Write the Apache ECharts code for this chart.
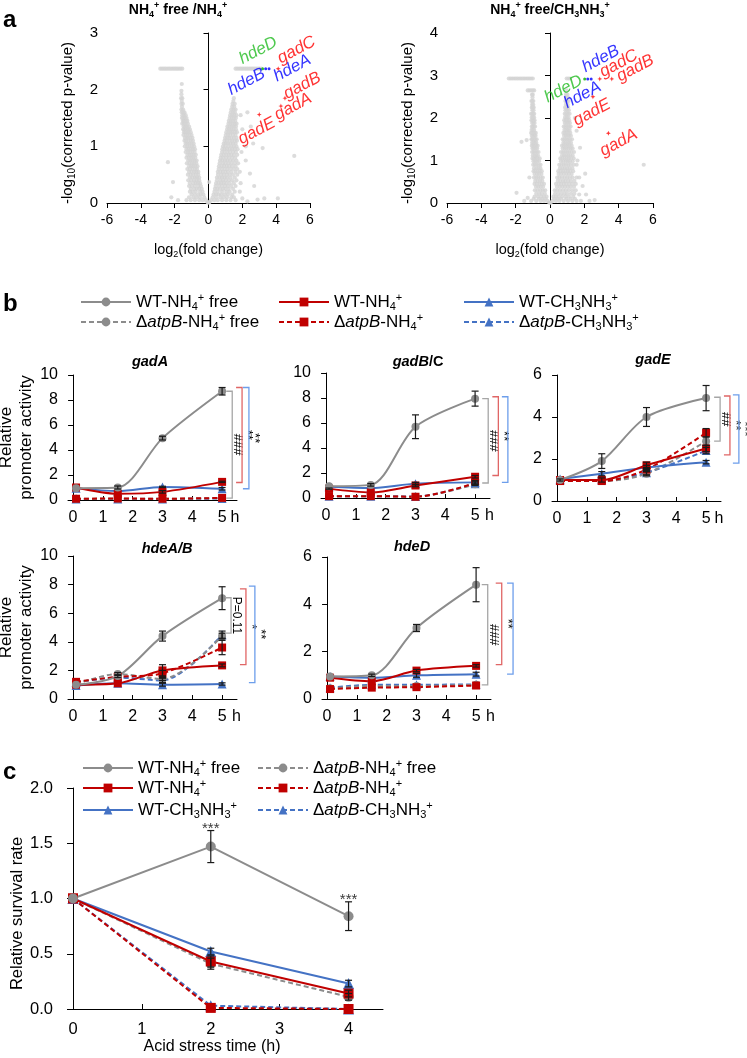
<!DOCTYPE html>
<html>
<head>
<meta charset="utf-8">
<title>NH4+ starvation and acid resistance</title>
<script src="https://cdn.jsdelivr.net/npm/echarts@6.0.0/dist/echarts.min.js"></script>
<style>
  html, body { margin: 0; padding: 0; background: #fff; }
  #main { width: 747px; height: 1058px; }
</style>
</head>
<body>
<div id="main"></div>
<script>
const FONT = 'Liberation Sans';
const GREY = '#8c8c8c', RED = '#c00000', BLUE = '#4472c4', PT = '#d3d3d3';

// ---------- panel a : volcano plots ----------
// rows: [y, x1, x2, ...]  (-log10 p, log2 fold change)
const volcA_rows = [
  [0.01, -0.05, 0.0, 0.05],
  [0.05, -1.3, -1.05, -0.8, -0.55, -0.35, -0.15, 0.15, 0.35, 0.55, 0.8, 1.05, 1.3, 1.6],
  [0.1, -1.15, -0.9, -0.7, -0.5, -0.25, 0.25, 0.45, 0.7, 0.9, 1.1, 1.35, 1.5],
  [0.15, -1.0, -0.8, -0.6, -0.45, -0.3, 0.3, 0.45, 0.6, 0.75, 0.95, 1.15, 1.4],
  [0.2, -1.1, -0.95, -0.75, -0.5, -0.35, 0.35, 0.55, 0.8, 1.05, 1.25, 1.55],
  [0.25, -1.05, -0.85, -0.7, -0.55, -0.4, 0.38, 0.52, 0.68, 0.85, 1.0, 1.2, 1.45],
  [0.3, -1.15, -0.98, -0.8, -0.6, -0.45, 0.42, 0.62, 0.8, 0.98, 1.15, 1.35, 1.6],
  [0.35, -1.1, -0.9, -0.75, -0.62, -0.5, 0.45, 0.6, 0.75, 0.9, 1.05, 1.25, 1.5, 1.9],
  [0.4, -1.2, -1.02, -0.85, -0.7, -0.55, 0.5, 0.7, 0.85, 1.02, 1.2, 1.4, 1.65],
  [0.45, -1.1, -0.95, -0.8, -0.68, -0.55, 0.5, 0.65, 0.8, 0.95, 1.1, 1.3, 1.55],
  [0.5, -1.22, -1.05, -0.9, -0.75, -0.6, 0.56, 0.75, 0.9, 1.08, 1.25, 1.45, 1.7],
  [0.55, -1.15, -1.0, -0.85, -0.72, -0.6, 0.55, 0.7, 0.85, 1.0, 1.15, 1.35, 1.6, 1.85],
  [0.6, -1.25, -1.1, -0.95, -0.8, -0.68, 0.6, 0.78, 0.95, 1.12, 1.3, 1.5, 1.7],
  [0.65, -1.15, -1.02, -0.9, -0.78, -0.65, 0.62, 0.78, 0.92, 1.08, 1.22, 1.4, 1.6],
  [0.7, -1.28, -1.12, -0.98, -0.85, -0.72, 0.66, 0.85, 1.0, 1.18, 1.35, 1.55, 1.75],
  [0.75, -1.2, -1.08, -0.95, -0.82, -0.7, 0.68, 0.82, 0.98, 1.12, 1.28, 1.45, 1.65],
  [0.8, -1.3, -1.15, -1.02, -0.9, -0.78, 0.72, 0.88, 1.05, 1.22, 1.4, 1.58],
  [0.85, -1.25, -1.12, -1.0, -0.88, -0.75, 0.75, 0.9, 1.05, 1.2, 1.35, 1.5, 1.7],
  [0.9, -1.35, -1.2, -1.08, -0.95, -0.82, 0.8, 0.95, 1.12, 1.28, 1.45, 1.62],
  [0.95, -1.3, -1.18, -1.05, -0.92, -0.8, 0.82, 0.96, 1.1, 1.25, 1.4, 1.55, 1.72],
  [1.0, -1.4, -1.25, -1.12, -0.98, -0.85, 0.86, 1.0, 1.18, 1.35, 1.5, 1.65],
  [1.05, -1.35, -1.25, -1.12, -1.0, -0.88, 0.9, 1.02, 1.15, 1.3, 1.45, 1.6],
  [1.1, -1.42, -1.32, -1.18, -1.05, -0.92, 0.95, 1.08, 1.25, 1.4, 1.55, 1.68],
  [1.15, -1.4, -1.3, -1.2, -1.08, -0.95, 0.98, 1.1, 1.22, 1.35, 1.5, 1.65],
  [1.2, -1.48, -1.35, -1.25, -1.12, -1.0, 1.02, 1.15, 1.28, 1.45, 1.6],
  [1.25, -1.45, -1.38, -1.28, -1.18, -1.05, 1.05, 1.18, 1.3, 1.42, 1.55, 1.68],
  [1.3, -1.5, -1.42, -1.32, -1.2, -1.1, 1.1, 1.22, 1.35, 1.48, 1.62],
  [1.35, -1.47, -1.38, -1.28, -1.15, 1.12, 1.25, 1.38, 1.5, 1.62],
  [1.4, -1.55, -1.45, -1.35, -1.22, 1.18, 1.3, 1.42, 1.55, 1.66],
  [1.45, -1.52, -1.45, -1.35, -1.25, 1.2, 1.32, 1.45, 1.58],
  [1.5, -1.57, -1.48, -1.4, -1.3, 1.25, 1.38, 1.5, 1.62],
  [1.55, -1.55, -1.45, -1.35, 1.28, 1.4, 1.52, 1.65],
  [1.6, -1.58, -1.5, -1.42, 1.32, 1.45, 1.56],
  [1.65, -1.6, -1.5, 1.35, 1.48, 1.6],
  [1.7, -1.57, 1.4, 1.52],
  [1.75, -1.6, -1.52, 1.42, 1.55],
  [1.8, -1.58, 1.47],
  [1.85, -1.62, -1.55, 1.5],
  [1.92, -1.6],
  [1.98, -1.6],
  [2.1, -1.58],
  [2.37, -2.85, -2.75, -2.65, -2.55, -2.45, -2.35, -2.25, -2.15, -2.05, -1.95, -1.85, -1.75, -1.65, -1.55,
        1.6, 1.7, 1.8, 1.9, 2.0, 2.1, 2.2, 2.3, 2.4, 2.5, 2.6, 2.7, 2.8, 2.9, 3.0, 3.1]
];
const volcA_other = [[-2.4, 0.72], [-2.1, 0.37], [-2.2, 0.1], [-1.8, 0.05], [0.04, 0.37], [1.85, 0.2], [2.0, 0.08],
  [2.3, 0.03], [2.9, 0.06], [3.3, 0.08], [4.1, 0.08], [2.45, 0.52], [2.2, 0.75], [2.2, 1.0], [2.64, 1.05],
  [3.2, 0.97], [2.0, 1.3], [1.9, 1.55], [2.5, 1.35], [2.3, 1.6], [5.07, 0.83], [2.7, 0.3], [1.95, 0.9]];
const volcA_geneRed = [[4.12, 2.37], [4.52, 1.85], [4.28, 1.71], [3.0, 1.56]];
const volcA_geneBlue = [[3.38, 2.37], [3.58, 2.37]];
const volcA_geneGreen = [[3.2, 2.37]];
const volcA_labelRed = [['gadC', 5.2, 2.7], ['gadB', 5.54, 2.07], ['gadE', 2.85, 1.27], ['gadA', 5.0, 1.7]];
const volcA_labelBlue = [['hdeB', 2.25, 2.14], ['hdeA', 4.95, 2.38]];
const volcA_labelGreen = [['hdeD', 2.94, 2.69]];

const volcB_rows = [
  [0.01, -0.05, 0.0, 0.05],
  [0.05, -1.1, -0.8, -0.55, -0.35, -0.15, 0.15, 0.35, 0.55, 0.8, 1.05, 1.3, 1.55],
  [0.1, -0.95, -0.65, -0.45, -0.25, 0.25, 0.45, 0.65, 0.95, 1.2, 1.45],
  [0.15, -0.9, -0.7, -0.5, -0.35, -0.2, 0.2, 0.35, 0.5, 0.7, 0.9, 1.1, 1.35],
  [0.22, -0.8, -0.62, -0.48, -0.3, 0.3, 0.48, 0.66, 0.84, 1.0, 1.22, 1.42],
  [0.3, -0.88, -0.72, -0.56, -0.42, -0.28, 0.28, 0.42, 0.58, 0.75, 0.92, 1.1, 1.3, 1.5],
  [0.38, -0.82, -0.68, -0.54, -0.4, 0.4, 0.56, 0.72, 0.88, 1.04, 1.2, 1.4],
  [0.45, -0.9, -0.76, -0.62, -0.48, -0.35, 0.35, 0.5, 0.65, 0.8, 0.95, 1.12, 1.3, 1.5],
  [0.52, -0.86, -0.72, -0.58, -0.45, 0.45, 0.6, 0.76, 0.9, 1.06, 1.22, 1.42],
  [0.6, -0.93, -0.8, -0.68, -0.55, -0.42, 0.42, 0.55, 0.7, 0.85, 1.0, 1.15, 1.32, 1.55],
  [0.68, -0.9, -0.76, -0.64, -0.5, 0.5, 0.64, 0.8, 0.96, 1.1, 1.26],
  [0.75, -0.96, -0.85, -0.72, -0.6, -0.48, 0.48, 0.62, 0.76, 0.9, 1.04, 1.18, 1.35],
  [0.82, -0.93, -0.8, -0.68, -0.56, 0.58, 0.72, 0.86, 1.0, 1.14, 1.3],
  [0.9, -0.98, -0.88, -0.78, -0.66, -0.55, 0.54, 0.67, 0.8, 0.93, 1.07, 1.2, 1.38, 1.55],
  [0.98, -0.96, -0.86, -0.76, -0.64, 0.64, 0.78, 0.92, 1.04, 1.16, 1.32],
  [1.05, -1.02, -0.92, -0.82, -0.72, -0.6, 0.6, 0.72, 0.85, 0.97, 1.1, 1.22, 1.38],
  [1.12, -1.0, -0.9, -0.8, -0.7, 0.7, 0.82, 0.94, 1.06, 1.18, 1.32],
  [1.2, -1.04, -0.96, -0.87, -0.77, -0.67, 0.65, 0.77, 0.88, 1.0, 1.12, 1.25, 1.4],
  [1.28, -1.02, -0.94, -0.84, -0.75, 0.74, 0.85, 0.96, 1.08, 1.2, 1.32],
  [1.35, -1.06, -0.98, -0.9, -0.82, -0.72, 0.7, 0.8, 0.92, 1.03, 1.14, 1.26],
  [1.42, -1.04, -0.96, -0.88, -0.8, 0.78, 0.88, 1.0, 1.1, 1.22],
  [1.5, -1.08, -1.02, -0.94, -0.86, -0.78, 0.74, 0.84, 0.95, 1.05, 1.16, 1.28],
  [1.58, -1.06, -0.98, -0.9, -0.84, 0.82, 0.92, 1.02, 1.12, 1.22],
  [1.65, -1.1, -1.04, -0.97, -0.9, -0.83, 0.78, 0.88, 0.98, 1.08, 1.18],
  [1.72, -1.07, -1.0, -0.92, 0.84, 0.94, 1.04, 1.14],
  [1.8, -1.06, -1.0, -0.94, -0.87, 0.8, 0.9, 1.0, 1.1, 1.2],
  [1.88, -1.04, -0.97, -0.9, 0.86, 0.96, 1.06, 1.16],
  [1.95, -1.08, -1.02, -0.96, -0.9, 0.83, 0.92, 1.02, 1.12],
  [2.02, -1.06, -0.99, -0.93, 0.88, 0.98, 1.08],
  [2.1, -1.1, -1.04, -0.98, -0.92, 0.86, 0.95, 1.04, 1.14],
  [2.18, -1.03, -0.96, 0.9, 1.0, 1.1],
  [2.25, -1.06, -1.0, -0.95, 0.88, 0.97, 1.06],
  [2.32, -1.04, -0.98, 0.93, 1.03],
  [2.4, -1.08, -1.03, -0.97, 0.9, 0.99, 1.08],
  [2.48, -1.02, 0.95, 1.05],
  [2.55, -1.05, -1.0, 0.93, 1.02],
  [2.65, -1.3, -1.2, -1.1, -1.0, -0.92, 0.96],
  [2.93, -2.4, -2.3, -2.2, -2.1, -2.0, -1.9, -1.8, -1.7, -1.6, -1.5, -1.4, -1.3, -1.2, -1.1, -1.0, 0.97, 1.07, 1.17]
];
const volcB_other = [[-1.95, 0.24], [-1.66, 1.44], [-1.36, 1.48], [-1.5, 0.05], [-1.3, 0.12], [-1.2, 0.6],
  [1.6, 1.0], [2.05, 0.69], [2.1, 0.2], [2.3, 0.05], [2.6, 0.07], [1.8, 0.05], [5.46, 0.9], [1.75, 1.3],
  [1.7, 0.6], [1.9, 0.4], [1.55, 1.7], [1.45, 2.0], [1.7, 0.2]];
const volcB_geneRed = [[2.9, 2.92], [3.6, 2.92], [2.5, 2.5], [3.4, 1.64]];
const volcB_geneBlue = [[2.2, 2.92], [2.4, 2.92]];
const volcB_geneGreen = [[2.02, 2.92]];
const volcB_labelRed = [['gadC', 4.0, 3.28], ['gadB', 4.97, 3.17], ['gadE', 2.44, 2.13], ['gadA', 4.0, 1.42]];
const volcB_labelBlue = [['hdeB', 2.96, 3.39], ['hdeA', 1.89, 2.54]];
const volcB_labelGreen = [['hdeD', 0.78, 2.68]];

// ---------- panel b : promoter activity ----------
const seriesNames = ['WT-NH4+ free', 'ΔatpB-NH4+ free', 'WT-NH4+', 'ΔatpB-NH4+', 'WT-CH3NH3+', 'ΔatpB-CH3NH3+'];
const bTimes = [0.1, 1.5, 3, 5];
const bTicks = [0, 1, 2, 3, 4, 5];
// rows follow seriesNames
const gadA = [[0.95, 1.0, 4.95, 8.7], [0.1, 0.1, 0.1, 0.15], [1.0, 0.5, 0.65, 1.45],
              [0.1, 0.12, 0.1, 0.17], [0.95, 0.72, 1.05, 0.9], [0.08, 0.08, 0.08, 0.12]];
const gadA_err = [[0, 0.12, 0.15, 0.3], [0, 0, 0, 0], [0, 0, 0.1, 0.05], [0, 0, 0, 0], [0, 0, 0.05, 0.1], [0, 0, 0, 0]];
const gadA_sig = [[5.34, 8.7, 0.15, '###'], [5.67, 9.0, 1.4, '**'], [5.9, 9.0, 0.9, '**']];

const gadBC = [[0.95, 1.05, 5.7, 7.95], [0.15, 0.15, 0.1, 1.1], [0.75, 0.45, 1.0, 1.7],
               [0.15, 0.15, 0.1, 1.2], [0.9, 0.8, 1.15, 1.25], [0.15, 0.15, 0.12, 1.15]];
const gadBC_err = [[0, 0.1, 0.95, 0.6], [0, 0, 0, 0.1], [0.05, 0, 0.1, 0.1], [0, 0, 0, 0.1], [0, 0, 0.1, 0.15], [0, 0, 0, 0]];
const gadBC_sig = [[5.44, 7.95, 1.2, '###'], [5.78, 8.1, 1.8, '**'], [6.1, 8.1, 1.25, '']];

const gadE = [[1.0, 1.9, 4.0, 4.9], [1.0, 0.95, 1.3, 2.85], [1.0, 1.0, 1.7, 2.5],
              [0.95, 0.95, 1.5, 3.25], [1.05, 1.3, 1.6, 1.85], [1.0, 1.0, 1.35, 2.4]];
const gadE_err = [[0.05, 0.35, 0.45, 0.6], [0, 0, 0.1, 0.2], [0, 0.1, 0.15, 0.15], [0, 0, 0.1, 0.2], [0, 0.1, 0.1, 0.08], [0, 0, 0.1, 0.15]];
const gadE_sig = [[5.47, 4.94, 2.85, '##'], [5.8, 5.0, 2.2, '**'], [6.1, 5.05, 1.8, '***']];

const hdeAB = [[1.0, 1.6, 4.4, 7.05], [1.05, 1.75, 1.4, 4.4], [1.0, 1.1, 2.0, 2.35],
               [1.2, 1.55, 1.8, 3.6], [0.95, 1.1, 1.0, 1.05], [1.15, 1.5, 1.3, 4.5]];
const hdeAB_err = [[0, 0.1, 0.35, 0.8], [0, 0.1, 0.1, 0.2], [0, 0, 0.4, 0.1], [0, 0, 0.2, 0.5], [0, 0, 0.1, 0.08], [0, 0, 0.15, 0.25]];
const hdeAB_sig = [[5.3, 7.08, 4.6, 'P=0.11'], [5.8, 7.7, 2.4, '*'], [6.1, 7.9, 1.15, '**']];

const hdeD = [[0.95, 1.0, 3.0, 4.83], [0.45, 0.55, 0.55, 0.6], [0.9, 0.75, 1.2, 1.4],
              [0.42, 0.48, 0.5, 0.57], [0.95, 0.9, 1.0, 1.05], [0.48, 0.6, 0.6, 0.62]];
const hdeD_err = [[0, 0.05, 0.15, 0.72], [0, 0, 0, 0], [0, 0, 0.05, 0.05], [0, 0, 0, 0], [0, 0, 0.08, 0.08], [0, 0, 0, 0]];
const hdeD_sig = [[5.39, 4.83, 0.6, '###'], [5.86, 4.9, 1.45, '**'], [6.24, 4.9, 1.05, '']];

// ---------- panel c : survival ----------
const cTimes = [0, 2, 4];
const cTicks = [0, 1, 2, 3, 4];
const survival = [[1.0, 1.47, 0.84], [1.0, 0.41, 0.11], [1.0, 0.43, 0.14],
                  [1.0, 0.01, 0.0], [1.0, 0.52, 0.23], [1.0, 0.03, 0.0]];
const survival_err = [[0, 0.145, 0.13], [0, 0.05, 0.03], [0, 0.05, 0.03], [0, 0, 0], [0, 0.03, 0.03], [0, 0, 0]];
const survivalStars = [[2, 1.63, '***'], [4, 0.99, '***']];

// ---------- helpers ----------
const STYLE = [
  { color: GREY, dash: 'solid', symbol: 'circle' },
  { color: GREY, dash: [5, 3], symbol: 'circle' },
  { color: RED, dash: 'solid', symbol: 'rect' },
  { color: RED, dash: [5, 3], symbol: 'rect' },
  { color: BLUE, dash: 'solid', symbol: 'triangle' },
  { color: BLUE, dash: [5, 3], symbol: 'triangle' }
];
const DRAW_ORDER = [5, 1, 3, 4, 2, 0];
const BRACKET_COLORS = ['#a6a6a6', '#e06666', '#6d9eeb'];
const RICH_NAMES = {
  'WT-NH4+ free': 'WT-NH{sb|4}{sp|+} free',
  'ΔatpB-NH4+ free': 'Δ{it|atpB}-NH{sb|4}{sp|+} free',
  'WT-NH4+': 'WT-NH{sb|4}{sp|+}',
  'ΔatpB-NH4+': 'Δ{it|atpB}-NH{sb|4}{sp|+}',
  'WT-CH3NH3+': 'WT-CH{sb|3}NH{sb|3}{sp|+}',
  'ΔatpB-CH3NH3+': 'Δ{it|atpB}-CH{sb|3}NH{sb|3}{sp|+}'
};

function rich(size, weight) {
  const small = Math.round(size * 0.65);
  const base = { fontFamily: FONT, color: '#000', fontWeight: weight || 'normal' };
  return {
    sb: Object.assign({}, base, { fontSize: small, verticalAlign: 'bottom', lineHeight: small + 1 }),
    sp: Object.assign({}, base, { fontSize: small, verticalAlign: 'top', lineHeight: small + 1 }),
    it: Object.assign({}, base, { fontSize: size, fontStyle: 'italic', lineHeight: size + 3 })
  };
}
function zrRich(size, weight) {
  const small = Math.round(size * 0.65);
  const base = { fontFamily: FONT, fill: '#000', fontWeight: weight || 'normal' };
  return {
    sb: Object.assign({}, base, { fontSize: small, verticalAlign: 'bottom', lineHeight: small + 1 }),
    sp: Object.assign({}, base, { fontSize: small, verticalAlign: 'top', lineHeight: small + 1 }),
    it: Object.assign({}, base, { fontSize: size, fontStyle: 'italic', lineHeight: size + 4 }),
    n: Object.assign({}, base, { fontSize: size, lineHeight: size + 4 })
  };
}
function flatten(rows) {
  const out = [];
  rows.forEach(r => r.slice(1).forEach(x => out.push([x, r[0]])));
  return out;
}
const axisLine = { show: true, lineStyle: { color: '#000', width: 1 } };
function tick(len, inside, values) {
  const t = { show: true, inside: inside, length: len, lineStyle: { color: '#000', width: 1 } };
  if (values) t.customValues = values;
  return t;
}

const grid = [], xAxis = [], yAxis = [], series = [], legend = [], graphic = [];

function errorBarItem(params, api) {
  const x = api.value(0), y = api.value(1), e = api.value(2);
  const hi = api.coord([x, y + e]), lo = api.coord([x, y - e]);
  const cap = 3.5;
  const st = { stroke: '#1a1a1a', lineWidth: 1.2 };
  return { type: 'group', children: [
    { type: 'line', shape: { x1: hi[0], y1: hi[1], x2: lo[0], y2: lo[1] }, style: st },
    { type: 'line', shape: { x1: hi[0] - cap, y1: hi[1], x2: hi[0] + cap, y2: hi[1] }, style: st },
    { type: 'line', shape: { x1: lo[0] - cap, y1: lo[1], x2: lo[0] + cap, y2: lo[1] }, style: st }
  ]};
}
function bracketRenderer(list) {
  return function (params, api) {
    const b = list[params.dataIndex];
    const top = api.coord([b[0], b[1]]), bot = api.coord([b[0], b[2]]);
    const arm = 6;
    return { type: 'group', children: [
      { type: 'polyline', shape: { points: [[top[0] - arm, top[1]], top, bot, [bot[0] - arm, bot[1]]] },
        style: { stroke: BRACKET_COLORS[params.dataIndex], lineWidth: 1.3, fill: null } },
      { type: 'text', x: top[0] + 5.5, y: (top[1] + bot[1]) / 2, rotation: -Math.PI / 2,
        style: { text: b[3], fontSize: b[3].length > 3 ? 12 : 13, fontFamily: FONT, fill: '#000', align: 'center', verticalAlign: 'middle' } }
    ]};
  };
}
function errData(times, values, errs) {
  const out = [];
  values.forEach((row, k) => row.forEach((v, i) => {
    if (errs[k][i] > 0) out.push([times[i], v, errs[k][i]]);
  }));
  return out;
}

// ---------- volcano ----------
function addVolcano(left, width, yMax, rows, other, gR, gB, gG, lR, lB, lG) {
  const gi = grid.length;
  grid.push({ left: left, top: 33, width: width, height: 170, outerBoundsMode: 'none' });
  xAxis.push({
    gridIndex: gi, type: 'value', min: -6, max: 6, interval: 2, splitLine: { show: false },
    axisLine: axisLine, axisTick: tick(5, false),
    axisLabel: { fontSize: 14, margin: 10, color: '#000', fontFamily: FONT },
    name: 'log{sb|2}(fold change)', nameLocation: 'middle', nameGap: 38,
    nameTextStyle: { fontSize: 14.5, fontFamily: FONT, color: '#000', lineHeight: 18, rich: rich(14.5) }
  });
  yAxis.push({
    gridIndex: gi, type: 'value', min: 0, max: yMax, interval: 1, splitLine: { show: false },
    axisLine: axisLine, axisTick: tick(5, false),
    axisLabel: { fontSize: 15, margin: 9, color: '#000', fontFamily: FONT },
    name: '-log{sb|10}(corrected p-value)', nameLocation: 'middle', nameGap: 30, nameRotate: 90,
    nameTextStyle: { fontSize: 15, fontFamily: FONT, color: '#000', lineHeight: 18, padding: [0, 10, 0, 0], rich: rich(15) }
  });
  series.push({ type: 'scatter', xAxisIndex: gi, yAxisIndex: gi, data: flatten(rows).concat(other),
    symbolSize: 4.2, itemStyle: { color: PT }, silent: true, z: 2 });
  const star = 'path://M0,-5L1.4,-1.4L5,0L1.4,1.4L0,5L-1.4,1.4L-5,0L-1.4,-1.4Z';
  series.push({ type: 'scatter', xAxisIndex: gi, yAxisIndex: gi, data: gR, symbol: star, symbolSize: 5, itemStyle: { color: '#ff0000' }, z: 3, silent: true });
  series.push({ type: 'scatter', xAxisIndex: gi, yAxisIndex: gi, data: gB, symbolSize: 3, itemStyle: { color: '#0000ff' }, z: 3, silent: true });
  series.push({ type: 'scatter', xAxisIndex: gi, yAxisIndex: gi, data: gG, symbolSize: 3, itemStyle: { color: '#00b000' }, z: 3, silent: true });
  [[lR, '#ff0000'], [lB, '#0000ff'], [lG, '#22bb22']].forEach(function (p) {
    series.push({ type: 'scatter', xAxisIndex: gi, yAxisIndex: gi, clip: false, silent: true, z: 5,
      data: p[0].map(d => ({ name: d[0], value: [d[1], d[2]] })),
      symbolSize: 1, itemStyle: { color: 'transparent' },
      label: { show: true, position: 'inside', rotate: 28, formatter: '{b}', color: p[1],
               fontStyle: 'italic', fontSize: 17, fontFamily: FONT } });
  });
}
addVolcano(107, 203, 3, volcA_rows, volcA_other, volcA_geneRed, volcA_geneBlue, volcA_geneGreen,
           volcA_labelRed, volcA_labelBlue, volcA_labelGreen);
addVolcano(447, 206, 4, volcB_rows, volcB_other, volcB_geneRed, volcB_geneBlue, volcB_geneGreen,
           volcB_labelRed, volcB_labelBlue, volcB_labelGreen);

// ---------- time course panels ----------
function addTimePanel(cfg) {
  const gi = grid.length;
  grid.push({ left: cfg.left, top: cfg.top, width: 169, height: cfg.height, outerBoundsMode: 'none' });
  xAxis.push({
    gridIndex: gi, type: 'value', min: -0.17, max: 5.5, splitLine: { show: false },
    axisLine: axisLine, axisTick: tick(4, true, bTicks),
    axisLabel: { customValues: bTicks, fontSize: 16, margin: 10, color: '#000', fontFamily: FONT },
    name: 'h', nameLocation: 'end', nameGap: cfg.hGap,
    nameTextStyle: { fontSize: 16, fontFamily: FONT, color: '#000', verticalAlign: 'top', padding: [10, 0, 0, 0] }
  });
  const y = {
    gridIndex: gi, type: 'value', min: 0, max: cfg.yMax, interval: 2, splitLine: { show: false },
    axisLine: axisLine, axisTick: tick(5, false),
    axisLabel: { fontSize: 16, margin: 10, color: '#000', fontFamily: FONT }
  };
  if (cfg.yName) {
    Object.assign(y, { name: 'Relative\npromoter activity', nameLocation: 'middle', nameGap: 25, nameRotate: 90,
      nameTextStyle: { fontSize: 17, fontFamily: FONT, color: '#000', lineHeight: 20 } });
  }
  yAxis.push(y);
  DRAW_ORDER.forEach(function (k) {
    const s = STYLE[k];
    series.push({
      name: seriesNames[k], type: 'line', xAxisIndex: gi, yAxisIndex: gi, smooth: 0.3,
      data: bTimes.map((t, i) => [t, cfg.values[k][i]]),
      symbol: s.symbol, symbolSize: s.symbol === 'triangle' ? 9 : 8,
      lineStyle: { color: s.color, width: 2, type: s.dash }, itemStyle: { color: s.color }, z: 2, silent: true
    });
  });
  series.push({ type: 'custom', xAxisIndex: gi, yAxisIndex: gi, data: errData(bTimes, cfg.values, cfg.errs),
    encode: { x: 0, y: 1 }, renderItem: errorBarItem, clip: false, z: 4, silent: true });
  series.push({ type: 'custom', xAxisIndex: gi, yAxisIndex: gi, data: cfg.sig.map(b => [b[0], b[1], b[2]]),
    encode: { x: 0, y: [1, 2] }, renderItem: bracketRenderer(cfg.sig), clip: false, z: 4, silent: true });
  graphic.push({ type: 'text', x: cfg.titleX, y: cfg.titleY,
    style: { text: cfg.title, fontFamily: FONT, fontSize: 14.5, fontWeight: 'bold', fontStyle: 'italic', fill: '#000',
             align: 'center', verticalAlign: 'middle', lineHeight: 18, rich: zrRich(14.5, 'bold') } });
}
addTimePanel({ left: 68, top: 375, height: 125, yMax: 10, values: gadA, errs: gadA_err, sig: gadA_sig,
  yName: true, hGap: -11, title: 'gadA', titleX: 150, titleY: 362 });
addTimePanel({ left: 321, top: 373, height: 125, yMax: 10, values: gadBC, errs: gadBC_err, sig: gadBC_sig,
  yName: false, hGap: -5, title: 'gadB{n|/C}', titleX: 418, titleY: 362 });
addTimePanel({ left: 552, top: 375, height: 126, yMax: 6, values: gadE, errs: gadE_err, sig: gadE_sig,
  yName: false, hGap: -11, title: 'gadE', titleX: 653, titleY: 360 });
addTimePanel({ left: 68, top: 556, height: 143, yMax: 10, values: hdeAB, errs: hdeAB_err, sig: hdeAB_sig,
  yName: true, hGap: -5, title: 'hdeA/B', titleX: 167, titleY: 549 });
addTimePanel({ left: 322, top: 557, height: 142, yMax: 6, values: hdeD, errs: hdeD_err, sig: hdeD_sig,
  yName: false, hGap: -5, title: 'hdeD', titleX: 412, titleY: 547 });

// ---------- survival panel ----------
(function () {
  const gi = grid.length;
  grid.push({ left: 73, top: 788, width: 310, height: 221, outerBoundsMode: 'none' });
  xAxis.push({
    gridIndex: gi, type: 'value', min: 0, max: 4.5, splitLine: { show: false },
    axisLine: axisLine, axisTick: tick(5, true, cTicks),
    axisLabel: { customValues: cTicks, fontSize: 16.5, margin: 12, color: '#000', fontFamily: FONT },
    name: 'Acid stress time (h)', nameLocation: 'middle', nameGap: 30,
    nameTextStyle: { fontSize: 16, fontFamily: FONT, color: '#000', padding: [0, 32, 0, 0] }
  });
  yAxis.push({
    gridIndex: gi, type: 'value', min: 0, max: 2, interval: 0.5, splitLine: { show: false },
    axisLine: axisLine, axisTick: tick(6, false),
    axisLabel: { fontSize: 16.5, margin: 20, color: '#000', fontFamily: FONT, formatter: v => v.toFixed(1) },
    name: 'Relative survival rate', nameLocation: 'middle', nameGap: 43, nameRotate: 90,
    nameTextStyle: { fontSize: 16.5, fontFamily: FONT, color: '#000', padding: [0, 30, 0, 0] }
  });
  DRAW_ORDER.forEach(function (k) {
    const s = STYLE[k];
    series.push({
      name: seriesNames[k], type: 'line', xAxisIndex: gi, yAxisIndex: gi,
      data: cTimes.map((t, i) => [t, survival[k][i]]),
      symbol: s.symbol, symbolSize: s.symbol === 'triangle' ? 11 : 10,
      lineStyle: { color: s.color, width: 2, type: s.dash }, itemStyle: { color: s.color }, z: 2, silent: true
    });
  });
  series.push({ type: 'custom', xAxisIndex: gi, yAxisIndex: gi, data: errData(cTimes, survival, survival_err),
    encode: { x: 0, y: 1 }, renderItem: errorBarItem, clip: false, z: 4, silent: true });
  series.push({ type: 'scatter', xAxisIndex: gi, yAxisIndex: gi, clip: false, silent: true, z: 5,
    data: survivalStars.map(s => ({ name: s[2], value: [s[0], s[1]] })),
    symbolSize: 1, itemStyle: { color: 'transparent' },
    label: { show: true, position: 'inside', formatter: '{b}', fontSize: 15, color: '#000', fontFamily: FONT } });
})();

// ---------- legends ----------
function addLegend(name, left, top) {
  legend.push({
    data: [name], left: left, top: top, padding: 0, itemWidth: 50, itemHeight: 11, selectedMode: false,
    formatter: n => RICH_NAMES[n],
    textStyle: { fontSize: 17, fontFamily: FONT, color: '#000', lineHeight: 20, rich: rich(17) }
  });
}
[['WT-NH4+ free', 80, 292], ['ΔatpB-NH4+ free', 80, 312], ['WT-NH4+', 278, 292],
 ['ΔatpB-NH4+', 278, 312], ['WT-CH3NH3+', 463, 292], ['ΔatpB-CH3NH3+', 463, 312]]
  .forEach(l => addLegend(l[0], l[1], l[2]));
[['WT-NH4+ free', 82, 758], ['WT-NH4+', 82, 778], ['WT-CH3NH3+', 82, 800],
 ['ΔatpB-NH4+ free', 257, 758], ['ΔatpB-NH4+', 257, 778], ['ΔatpB-CH3NH3+', 257, 800]]
  .forEach(l => addLegend(l[0], l[1], l[2]));

// ---------- titles and panel letters ----------
graphic.push({ type: 'text', x: 178, y: 10, style: { text: 'NH{sb|4}{sp|+} free /NH{sb|4}{sp|+}', fontFamily: FONT,
  fontSize: 14, fontWeight: 'bold', fill: '#000', align: 'center', verticalAlign: 'middle', lineHeight: 18, rich: zrRich(14, 'bold') } });
graphic.push({ type: 'text', x: 550, y: 10, style: { text: 'NH{sb|4}{sp|+} free/CH{sb|3}NH{sb|3}{sp|+}', fontFamily: FONT,
  fontSize: 14, fontWeight: 'bold', fill: '#000', align: 'center', verticalAlign: 'middle', lineHeight: 18, rich: zrRich(14, 'bold') } });
[['a', 20], ['b', 304], ['c', 772]].forEach(function (p) {
  graphic.push({ type: 'text', x: 3, y: p[1], style: { text: p[0], fontFamily: FONT, fontSize: 24, fontWeight: 'bold',
    fill: '#000', align: 'left', verticalAlign: 'middle' } });
});

const chart = echarts.init(document.getElementById('main'));
chart.setOption({ animation: false, grid, xAxis, yAxis, series, legend, graphic });
</script>
</body>
</html>
